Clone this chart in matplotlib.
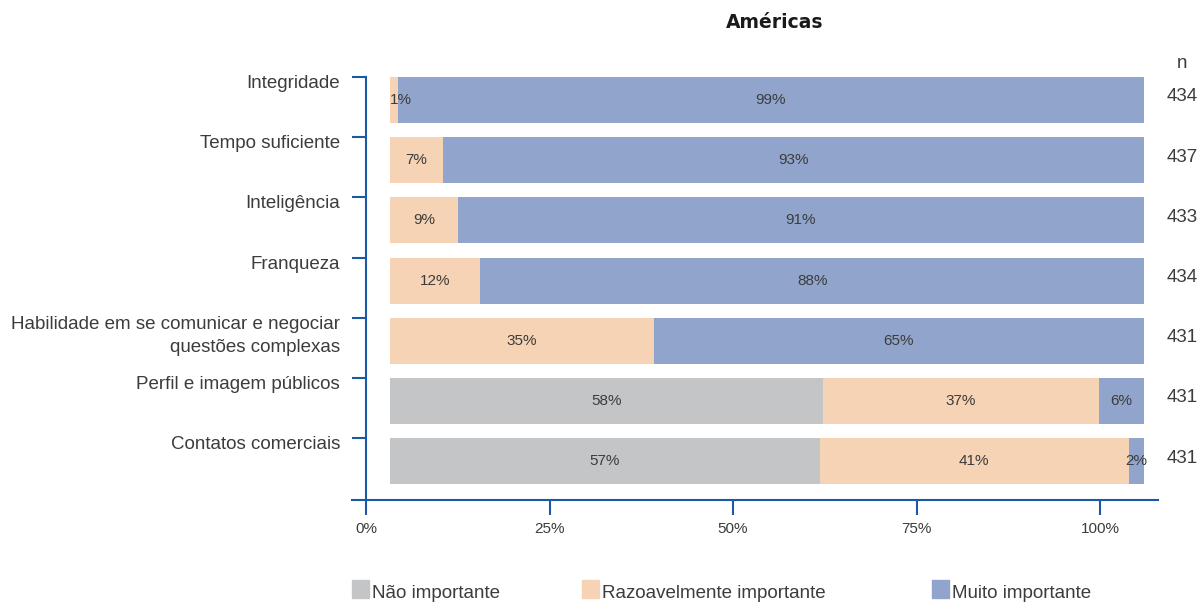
import matplotlib
matplotlib.use("Agg")
import matplotlib.pyplot as plt
from matplotlib.patches import Rectangle

plt.rcParams['font.family'] = ['Liberation Sans', 'DejaVu Sans']

categories = ["Integridade", "Tempo suficiente", "Inteligência", "Franqueza",
              "Habilidade em se comunicar e negociar\nquestões complexas",
              "Perfil e imagem públicos", "Contatos comerciais"]
nao = [0, 0, 0, 0, 0, 58, 57]
razo = [1, 7, 9, 12, 35, 37, 41]
muito = [99, 93, 91, 88, 65, 6, 2]
n_resp = [434, 437, 433, 434, 431, 431, 431]
series_names = ["Não importante", "Razoavelmente importante", "Muito importante"]
colors = ["#c4c5c7", "#f5d3b4", "#91a4cc"]
xticks = [0, 25, 50, 75, 100]

W, H = 1199, 603
fig = plt.figure(figsize=(W / 100, H / 100), dpi=100)

def fx(px):
    return px / W

def fy(py):
    return 1 - py / H

blue = "#1c58a3"
txt = "#3c3c3c"

# frame axes: spines, ticks, labels
y_top, y_bot = 70, 500
axf = fig.add_axes([fx(352), fy(y_bot), fx(1158) - fx(352), fy(y_top) - fy(y_bot)])
axf.set_facecolor("none")
axf.set_xlim(-14 / 7.34, (1158 - 366) / 7.34)
ylim = (6.645, -0.498)
axf.set_ylim(*ylim)
for s in ["top", "right"]:
    axf.spines[s].set_visible(False)
axf.spines["left"].set_position(("data", 0))
tick_y = [i - 0.382 for i in range(len(categories))]
axf.spines["left"].set_bounds(tick_y[0], ylim[0])
for s in ["left", "bottom"]:
    axf.spines[s].set_color(blue)
    axf.spines[s].set_linewidth(1.5)
axf.set_xticks(xticks)
axf.set_xticklabels([f"{v}%" for v in xticks])
axf.tick_params(axis="x", length=10.8, width=1.5, color=blue, pad=5,
                labelsize=11, labelcolor=txt)
axf.set_yticks(tick_y)
axf.set_yticklabels([])
axf.tick_params(axis="y", length=10.1, width=1.5, color=blue)

# baseline of the last line is used, so push multi-line labels down
for ty, lab in zip(tick_y, categories):
    extra = lab.count("\n") * 23
    axf.annotate(lab, xy=(0, ty), xycoords=("axes fraction", "data"),
                 xytext=(-8.6, -(11 + extra) * 0.72), textcoords="offset points",
                 ha="right", va="baseline", fontsize=13.5, color=txt,
                 multialignment="right", linespacing=1.42)

# bar axes
axb = fig.add_axes([fx(390), fy(y_bot), fx(1144) - fx(390), fy(y_top) - fy(y_bot)])
axb.set_facecolor("none")
axb.set_xlim(0, 100)
axb.set_ylim(*ylim)
axb.axis("off")

ypos = list(range(len(categories)))
for i in ypos:
    vals = [nao[i], razo[i], muito[i]]
    total = sum(vals)
    left = 0
    for j, v in enumerate(vals):
        if v == 0:
            continue
        w = v / total * 100
        axb.barh(i, w, left=left, height=0.764, color=colors[j], edgecolor="none")
        if left == 0 and v < 3:
            axb.text(left, i, f"{v}%", ha="left", va="center", fontsize=11, color=txt)
        else:
            axb.text(left + w / 2, i, f"{v}%", ha="center", va="center", fontsize=11, color=txt)
        left += w
    axb.text(1.03, i - 0.05, str(n_resp[i]), transform=axb.get_yaxis_transform(),
             ha="left", va="center", fontsize=13.5, color=txt, clip_on=False)

fig.text(fx(1182), fy(63), "n", ha="center", va="center", fontsize=13.5, color=txt)
fig.text(fx(775), fy(22), "Américas", ha="center", va="center", fontsize=13.5,
         fontweight="bold", color="#1a1a1a", family="DejaVu Sans")

# legend
leg_x = [352, 582, 932]
for x0, name, c in zip(leg_x, series_names, colors):
    fig.patches.append(Rectangle((fx(x0), fy(598)), fx(17), 18 / H, color=c,
                                 transform=fig.transFigure, figure=fig))
    fig.text(fx(x0 + 20), fy(593), name, ha="left", va="center", fontsize=13.5, color=txt)

fig.savefig("out.png", dpi=100)
